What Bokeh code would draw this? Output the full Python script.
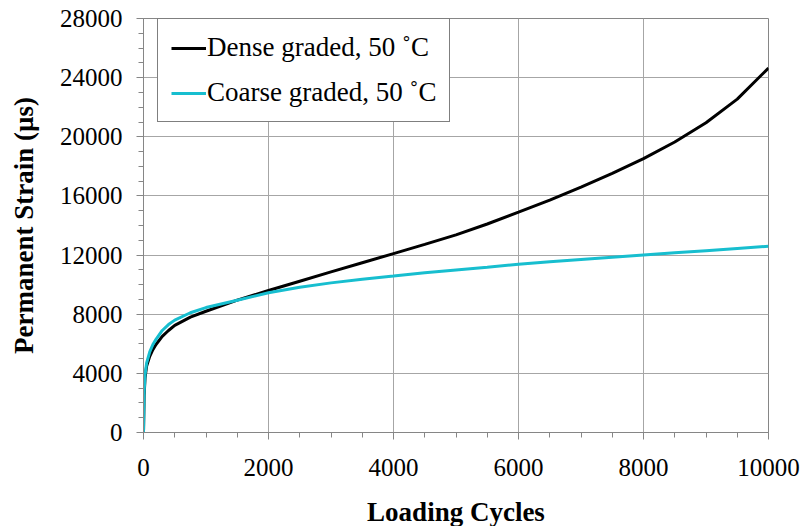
from bokeh.plotting import figure
from bokeh.models import Legend, LegendItem, SingleIntervalTicker, ColumnDataSource
from bokeh.embed import file_html
from bokeh.resources import INLINE

cycles = [0, 10, 25, 50, 100, 150, 200, 300, 400, 500, 750, 1000, 1500, 2000, 2500, 3000,
          3500, 4000, 4500, 5000, 5500, 6000, 6500, 7000, 7500, 8000, 8500, 9000,
          9500, 10000]
dense = [0, 2500, 3700, 4500, 5150, 5600, 5950, 6500, 6900, 7250, 7800, 8200, 8950, 9600,
         10230, 10860, 11480, 12100, 12720, 13370, 14100, 14900, 15720, 16600,
         17520, 18520, 19650, 20950, 22550, 24650]
coarse = [0, 2700, 3900, 4700, 5450, 5950, 6300, 6900, 7300, 7600, 8100, 8450, 8950, 9450,
          9820, 10120, 10370, 10580, 10800, 10990, 11180, 11380, 11550, 11700,
          11850, 12000, 12150, 12300, 12450, 12600]
series_names = ["Dense graded, 50 \u02daC", "Coarse graded, 50 \u02daC"]

FONT = "Liberation Serif"
GRID = "#a6a6a6"
AX = "#868686"

p = figure(width=805, height=526, output_backend="svg", toolbar_location=None,
           x_range=(0, 10000), y_range=(0, 28000),
           frame_width=625, frame_height=414,
           min_border_left=143, min_border_right=37, min_border_top=18,
           min_border_bottom=94)
p.background_fill_color = "white"
p.border_fill_color = "white"
p.outline_line_color = AX
p.outline_line_width = 1

src = ColumnDataSource(dict(x=cycles, d=dense, c=coarse))
r1 = p.line("x", "d", source=src, line_color="black", line_width=3)
r2 = p.line("x", "c", source=src, line_color="#17BECF", line_width=3)

p.xaxis.ticker = SingleIntervalTicker(interval=2000, num_minor_ticks=4)
p.yaxis.ticker = SingleIntervalTicker(interval=4000, num_minor_ticks=4)

for ax in (p.xaxis[0], p.yaxis[0]):
    ax.axis_line_color = AX
    ax.major_tick_line_color = AX
    ax.minor_tick_line_color = AX
    ax.major_tick_in = 0
    ax.major_tick_out = 7
    ax.minor_tick_in = 0
    ax.minor_tick_out = 5
    ax.major_label_text_font = FONT
    ax.major_label_text_font_size = "25px"
    ax.major_label_text_color = "black"
    ax.axis_label_text_font = FONT
    ax.axis_label_text_font_size = "27px"
    ax.axis_label_text_font_style = "bold"
    ax.axis_label_text_color = "black"

p.xaxis.axis_label = "Loading Cycles"
p.yaxis.axis_label = "Permanent Strain (\u00b5s)"
p.xaxis.major_label_standoff = 19
p.xaxis.axis_label_standoff = 18
p.yaxis.major_label_standoff = 14
p.yaxis.axis_label_standoff = 18

p.xgrid.grid_line_color = GRID
p.ygrid.grid_line_color = GRID
p.xgrid.grid_line_width = 1
p.ygrid.grid_line_width = 1

legend = Legend(items=[LegendItem(label=series_names[0], renderers=[r1]),
                       LegendItem(label=series_names[1], renderers=[r2])],
                location=(14, 310))
legend.border_line_color = "black"
legend.border_line_width = 1
legend.background_fill_color = "white"
legend.background_fill_alpha = 1
legend.label_text_font = FONT
legend.label_text_font_size = "27px"
legend.label_text_color = "black"
legend.glyph_width = 35
legend.label_standoff = 1
legend.spacing = 14
legend.padding = 13
legend.margin = 0
p.add_layout(legend, "center")

open("out.html", "w").write(file_html(p, INLINE))
